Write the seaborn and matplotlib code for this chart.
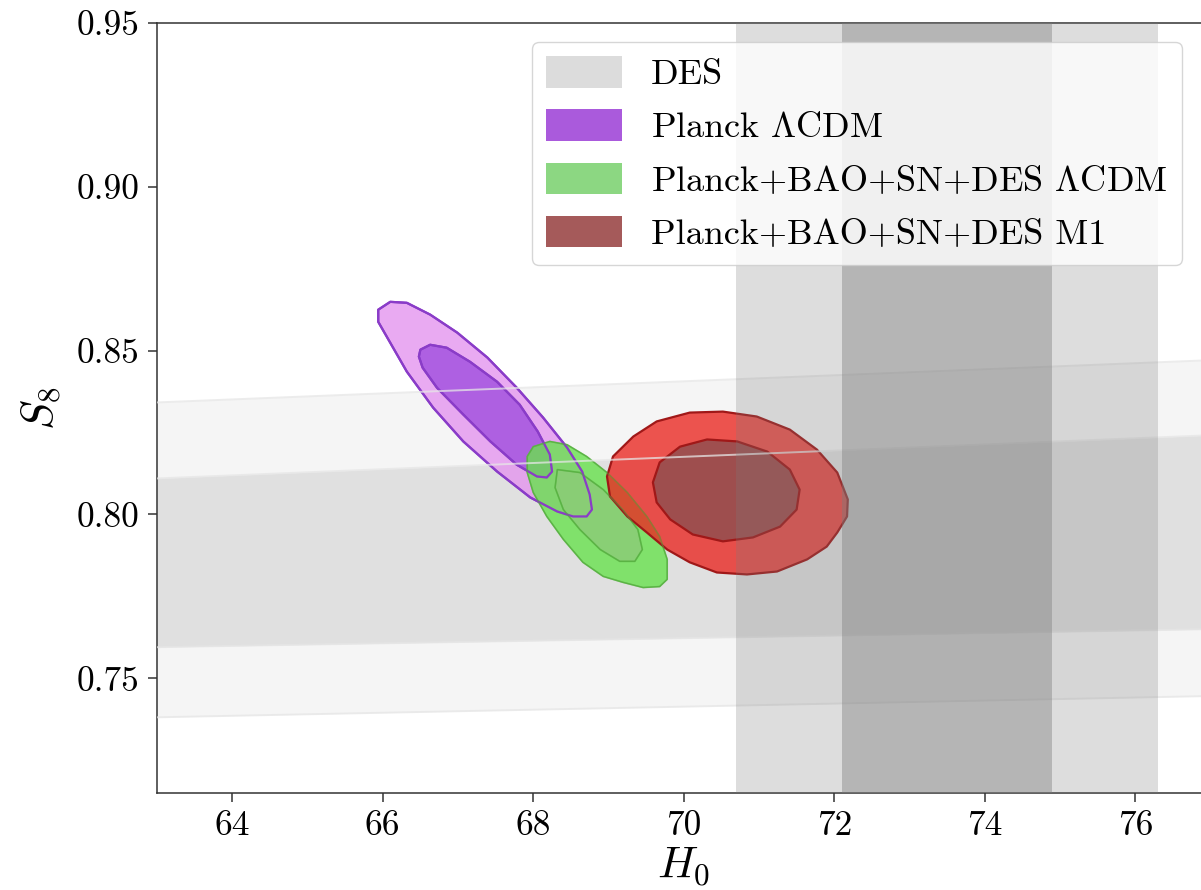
import numpy as np
import matplotlib
matplotlib.use("Agg")
import matplotlib.pyplot as plt
import seaborn as sns
from matplotlib.colors import to_rgba
from matplotlib.patches import Patch

# ---------------- data ----------------
# local H0 measurement bands
h0_1sig = [72.1, 74.9]
h0_2sig = [70.7, 76.3]

# DES S8 bands (edges at the two ends of the H0 range)
des_h0 = [63.0, 77.0]
des_1s_lo = [0.7595, 0.7650]
des_1s_hi = [0.8110, 0.8242]
des_2s_lo = [0.7381, 0.7446]
des_2s_hi = [0.8342, 0.8471]

# Planck LCDM contours
planck_2s_h0 = [65.94, 66.10, 66.32, 66.63, 66.99, 67.39, 67.78, 68.13, 68.45, 68.65, 68.75,
                68.78, 68.71, 68.53, 68.32, 67.96, 67.52, 67.07, 66.67, 66.32, 66.06, 65.94]
planck_2s_s8 = [0.8625, 0.8649, 0.8646, 0.8610, 0.8555, 0.8479, 0.8387, 0.8296, 0.8204, 0.8131,
                0.8061, 0.8015, 0.7994, 0.7994, 0.8009, 0.8052, 0.8131, 0.8223, 0.8326, 0.8436,
                0.8540, 0.8588]
planck_1s_h0 = [66.50, 66.63, 66.85, 67.16, 67.52, 67.82, 68.06, 68.22, 68.25, 68.18, 68.05,
                67.78, 67.43, 67.07, 66.72, 66.53, 66.48]
planck_1s_s8 = [0.8503, 0.8518, 0.8509, 0.8466, 0.8405, 0.8335, 0.8253, 0.8183, 0.8131, 0.8113,
                0.8116, 0.8152, 0.8223, 0.8305, 0.8387, 0.8448, 0.8482]

# Planck+BAO+SN+DES LCDM contours
lcdm_2s_h0 = [67.92, 68.00, 68.22, 68.45, 68.71, 68.98, 69.25, 69.51, 69.68, 69.78, 69.78,
              69.68, 69.46, 69.19, 68.93, 68.66, 68.40, 68.18, 68.00, 67.92]
lcdm_2s_s8 = [0.8177, 0.8207, 0.8223, 0.8213, 0.8177, 0.8128, 0.8067, 0.7994, 0.7933, 0.7863,
              0.7802, 0.7780, 0.7777, 0.7793, 0.7811, 0.7854, 0.7924, 0.7994, 0.8067, 0.8128]
lcdm_1s_h0 = [68.32, 68.62, 68.93, 69.19, 69.39, 69.45, 69.35, 69.15, 68.89, 68.62, 68.40, 68.29]
lcdm_1s_s8 = [0.8137, 0.8128, 0.8076, 0.8015, 0.7954, 0.7893, 0.7857, 0.7857, 0.7893, 0.7954,
              0.8015, 0.8082]

# Planck+BAO+SN+DES M1 contours
m1_2s_h0 = [68.98, 69.06, 69.33, 69.64, 70.08, 70.52, 70.97, 71.41, 71.77, 72.04, 72.18, 72.17,
            72.04, 71.90, 71.64, 71.24, 70.84, 70.44, 70.08, 69.78, 69.51, 69.25, 69.02]
m1_2s_s8 = [0.8116, 0.8177, 0.8238, 0.8284, 0.8311, 0.8314, 0.8299, 0.8259, 0.8198, 0.8128,
            0.8046, 0.7994, 0.7945, 0.7902, 0.7863, 0.7826, 0.7817, 0.7823, 0.7854, 0.7893,
            0.7945, 0.7994, 0.8055]
m1_1s_h0 = [69.59, 69.68, 69.95, 70.31, 70.71, 71.11, 71.41, 71.54, 71.50, 71.28, 70.92, 70.52,
            70.12, 69.82, 69.64]
m1_1s_s8 = [0.8098, 0.8159, 0.8207, 0.8229, 0.8223, 0.8192, 0.8137, 0.8076, 0.8015, 0.7963,
            0.7930, 0.7918, 0.7939, 0.7985, 0.8037]

labels = ["DES", r"Planck $\Lambda$CDM", r"Planck+BAO+SN+DES $\Lambda$CDM",
          "Planck+BAO+SN+DES M1"]
legend_colors = ["#dcdcdc", "#aa5adc", "#8cd782", "#a55a5a"]

x_ticks = [64, 66, 68, 70, 72, 74, 76]
y_ticks = [0.75, 0.80, 0.85, 0.90, 0.95]

# ---------------- style ----------------
sns.set_theme(style="ticks")
plt.rcParams["font.family"] = ["cmr10", "DejaVu Serif"]
plt.rcParams["mathtext.fontset"] = "cm"
plt.rcParams["axes.formatter.use_mathtext"] = True
plt.rcParams["axes.unicode_minus"] = False
plt.rcParams["text.color"] = "black"
plt.rcParams["axes.labelcolor"] = "black"

fig = plt.figure(figsize=(12.01, 8.90), dpi=100)
ax = fig.add_axes([157 / 1201, 97 / 890, 1053.5 / 1201, 770 / 890])

# DES bands
ax.fill_between(des_h0, des_2s_lo, des_2s_hi, color="black", alpha=0.04, lw=0, zorder=1)
ax.fill_between(des_h0, des_1s_lo, des_1s_hi, color="black", alpha=0.082, lw=0, zorder=1)


def contour(xo, yo, xi, yi, c_out, c_in, edge, z, alpha=0.8, lw=1.6):
    ax.fill(xo, yo, facecolor=to_rgba(c_out, alpha), edgecolor=edge, lw=lw, zorder=z,
            joinstyle="round")
    ax.fill(xi, yi, facecolor=to_rgba(c_in, alpha), edgecolor=edge, lw=lw, zorder=z + 0.1,
            joinstyle="round")


def outline(xs, ys, edge, z, lw=1.6, alpha=1.0):
    ax.fill(xs, ys, facecolor="none", edgecolor=to_rgba(edge, alpha), lw=lw, zorder=z,
            joinstyle="round")


contour(planck_2s_h0, planck_2s_s8, planck_1s_h0, planck_1s_s8,
        "#e495ef", "#a04ede", "#8a3cc8", 2)
contour(lcdm_2s_h0, lcdm_2s_s8, lcdm_1s_h0, lcdm_1s_s8,
        "#68e24e", "#8ccb78", "#5cc84a", 3, lw=1.0)
# Planck outlines remain visible through the green fill
outline(planck_2s_h0, planck_2s_s8, "#8a3cc8", 3.5)
outline(planck_1s_h0, planck_1s_s8, "#8a3cc8", 3.5)
contour(m1_2s_h0, m1_2s_s8, m1_1s_h0, m1_1s_s8,
        "#ea2a24", "#8c4f50", "#a01818", 4)
# green outlines seen through the red fill
outline(lcdm_2s_h0, lcdm_2s_s8, "#5aa040", 4.5, lw=1.2, alpha=0.5)
outline(lcdm_1s_h0, lcdm_1s_s8, "#5aa040", 4.5, lw=1.2, alpha=0.5)

# DES band edges (drawn above the contours)
for edge in (des_1s_lo, des_1s_hi, des_2s_lo, des_2s_hi):
    sns.lineplot(x=des_h0, y=edge, ax=ax, color="#e6e6e6", alpha=0.75, lw=1.4, zorder=5)

# local H0 bands
ax.axvspan(h0_2sig[0], h0_2sig[1], color="#7b7b7b", alpha=0.25, lw=0, zorder=6)
ax.axvspan(h0_1sig[0], h0_1sig[1], color="#7b7b7b", alpha=0.40, lw=0, zorder=6)

ax.set_xlim(63, 77)
ax.set_ylim(0.715, 0.95)
ax.set_xticks(x_ticks)
ax.set_xticklabels([str(t) for t in x_ticks])
ax.set_yticks(y_ticks)
ax.set_yticklabels([f"{t:.2f}" for t in y_ticks])

for s in ("left", "bottom", "top"):
    ax.spines[s].set_color("#333333")
    ax.spines[s].set_linewidth(1.1)
ax.spines["right"].set_visible(False)
ax.tick_params(axis="both", which="major", labelsize=25.5, length=6.5, width=1.1,
               color="#333333", labelcolor="black", pad=6, direction="out")

ax.set_xlabel(r"$H_0$", fontsize=32, labelpad=2, color="black")
ax.set_ylabel(r"$S_8$", fontsize=32, labelpad=10, color="black")

handles = [Patch(facecolor=c, edgecolor="none") for c in legend_colors]
leg = ax.legend(handles, labels, loc="upper left",
                bbox_to_anchor=(532 / 1201, 1 - 42 / 890), bbox_transform=fig.transFigure,
                borderaxespad=0, fontsize=26, handlelength=2.1, handleheight=0.95,
                handletextpad=0.8, labelspacing=0.5, borderpad=0.4,
                frameon=True, fancybox=True, framealpha=0.8, edgecolor="#cccccc",
                labelcolor="black")
leg.set_zorder(10)

fig.savefig("out.png", dpi=100)
